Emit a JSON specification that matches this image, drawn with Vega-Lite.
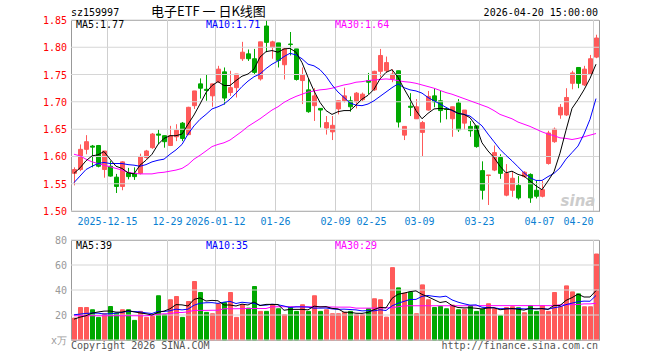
{
  "$schema": "https://vega.github.io/schema/vega-lite/v6.json",
  "background": "white",
  "padding": {"left": 42, "top": 5, "right": 10, "bottom": 4},
  "config": {
    "view": {"stroke": "#999", "strokeWidth": 1},
    "text": {"font": "DejaVu Sans Mono", "fontSize": 10}
  },
  "datasets": {
    "yt": [{"p":1.5},{"p":1.55},{"p":1.6},{"p":1.65},{"p":1.7},{"p":1.75},{"p":1.8},{"p":1.85}],
    "vt": [{"p":0,"t":"x万"},{"p":20,"t":"20"},{"p":40,"t":"40"},{"p":60,"t":"60"},{"p":80,"t":"80"}],
    "xt": [
      {"d":"2025-12-15","t":"2025-12-15"},{"d":"2025-12-29","t":"12-29"},{"d":"2026-01-12","t":"2026-01-12"},
      {"d":"2026-01-26","t":"01-26"},{"d":"2026-02-09","t":"02-09"},{"d":"2026-02-25","t":"02-25"},
      {"d":"2026-03-09","t":"03-09"},{"d":"2026-03-23","t":"03-23"},{"d":"2026-04-07","t":"04-07"}
    ],
    "xl": [{"d":"2026-04-20","t":"04-20"}],
    "k": [
      {"d":"2025-12-05","o":1.569,"h":1.580,"l":1.547,"c":1.576,"v":17.5,"m5":1.569,"m10":1.552,"m30":1.604,"vm5":16.7,"vm10":20.2,"vm30":19.4},
      {"d":"2025-12-08","o":1.576,"h":1.622,"l":1.573,"c":1.613,"v":26,"m5":1.579,"m10":1.564,"m30":1.601,"vm5":18.3,"vm10":20.7,"vm30":19.4},
      {"d":"2025-12-09","o":1.613,"h":1.639,"l":1.604,"c":1.627,"v":26,"m5":1.592,"m10":1.576,"m30":1.595,"vm5":19.4,"vm10":21.3,"vm30":19.4},
      {"d":"2025-12-10","o":1.619,"h":1.621,"l":1.580,"c":1.617,"v":24.2,"m5":1.601,"m10":1.582,"m30":1.590,"vm5":21.5,"vm10":21.5,"vm30":19.4},
      {"d":"2025-12-11","o":1.620,"h":1.621,"l":1.580,"c":1.582,"v":18.1,"m5":1.603,"m10":1.587,"m30":1.587,"vm5":22.4,"vm10":21.5,"vm30":19.4},
      {"d":"2025-12-12","o":1.576,"h":1.610,"l":1.561,"c":1.610,"v":21,"m5":1.609,"m10":1.589,"m30":1.584,"vm5":23.1,"vm10":20.8,"vm30":19.4},
      {"d":"2025-12-15","o":1.582,"h":1.592,"l":1.563,"c":1.564,"v":26.8,"m5":1.595,"m10":1.587,"m30":1.581,"vm5":23.2,"vm10":21.0,"vm30":19.4},
      {"d":"2025-12-16","o":1.562,"h":1.568,"l":1.533,"c":1.545,"v":21.5,"m5":1.582,"m10":1.587,"m30":1.578,"vm5":22.3,"vm10":21.5,"vm30":19.4},
      {"d":"2025-12-17","o":1.545,"h":1.591,"l":1.538,"c":1.590,"v":24.2,"m5":1.578,"m10":1.587,"m30":1.575,"vm5":22.3,"vm10":22.1,"vm30":19.4},
      {"d":"2025-12-18","o":1.570,"h":1.579,"l":1.558,"c":1.563,"v":24.2,"m5":1.570,"m10":1.585,"m30":1.571,"vm5":23.5,"vm10":23.0,"vm30":19.4},
      {"d":"2025-12-19","o":1.569,"h":1.580,"l":1.557,"c":1.563,"v":15.7,"m5":1.568,"m10":1.584,"m30":1.569,"vm5":22.5,"vm10":22.8,"vm30":19.4},
      {"d":"2025-12-22","o":1.569,"h":1.605,"l":1.567,"c":1.600,"v":22.9,"m5":1.584,"m10":1.582,"m30":1.568,"vm5":21.7,"vm10":22.5,"vm30":19.4},
      {"d":"2025-12-23","o":1.598,"h":1.612,"l":1.596,"c":1.610,"v":18.1,"m5":1.593,"m10":1.585,"m30":1.568,"vm5":21.0,"vm10":21.7,"vm30":19.4},
      {"d":"2025-12-24","o":1.616,"h":1.643,"l":1.614,"c":1.641,"v":18.9,"m5":1.604,"m10":1.590,"m30":1.568,"vm5":20.0,"vm10":21.2,"vm30":19.8},
      {"d":"2025-12-25","o":1.641,"h":1.649,"l":1.622,"c":1.639,"v":35.4,"m5":1.622,"m10":1.593,"m30":1.570,"vm5":22.2,"vm10":22.9,"vm30":20.6},
      {"d":"2025-12-26","o":1.638,"h":1.638,"l":1.616,"c":1.627,"v":20.2,"m5":1.633,"m10":1.595,"m30":1.571,"vm5":23.1,"vm10":22.8,"vm30":21.0},
      {"d":"2025-12-29","o":1.620,"h":1.656,"l":1.619,"c":1.638,"v":32.2,"m5":1.638,"m10":1.604,"m30":1.573,"vm5":25.0,"vm10":23.4,"vm30":21.0},
      {"d":"2025-12-30","o":1.636,"h":1.659,"l":1.628,"c":1.648,"v":34.8,"m5":1.638,"m10":1.612,"m30":1.575,"vm5":28.3,"vm10":24.7,"vm30":22.0},
      {"d":"2025-12-31","o":1.661,"h":1.663,"l":1.628,"c":1.633,"v":18.1,"m5":1.641,"m10":1.622,"m30":1.578,"vm5":28.1,"vm10":24.1,"vm30":22.0},
      {"d":"2026-01-05","o":1.640,"h":1.691,"l":1.639,"c":1.690,"v":30.8,"m5":1.659,"m10":1.641,"m30":1.585,"vm5":27.2,"vm10":24.7,"vm30":22.5},
      {"d":"2026-01-06","o":1.693,"h":1.720,"l":1.687,"c":1.720,"v":46.8,"m5":1.676,"m10":1.656,"m30":1.595,"vm5":32.5,"vm10":27.8,"vm30":23.7},
      {"d":"2026-01-07","o":1.733,"h":1.743,"l":1.706,"c":1.725,"v":38,"m5":1.696,"m10":1.668,"m30":1.602,"vm5":33.7,"vm10":29.4,"vm30":23.7},
      {"d":"2026-01-08","o":1.723,"h":1.751,"l":1.702,"c":1.721,"v":22.1,"m5":1.717,"m10":1.677,"m30":1.610,"vm5":31.2,"vm10":29.8,"vm30":23.7},
      {"d":"2026-01-09","o":1.711,"h":1.733,"l":1.691,"c":1.733,"v":21,"m5":1.730,"m10":1.687,"m30":1.618,"vm5":31.7,"vm10":29.9,"vm30":23.8},
      {"d":"2026-01-12","o":1.737,"h":1.766,"l":1.735,"c":1.760,"v":29,"m5":1.737,"m10":1.691,"m30":1.622,"vm5":31.4,"vm10":29.3,"vm30":23.8},
      {"d":"2026-01-13","o":1.755,"h":1.763,"l":1.695,"c":1.707,"v":30,"m5":1.730,"m10":1.696,"m30":1.625,"vm5":28.0,"vm10":30.3,"vm30":25.0},
      {"d":"2026-01-14","o":1.717,"h":1.757,"l":1.711,"c":1.726,"v":38,"m5":1.730,"m10":1.705,"m30":1.630,"vm5":28.0,"vm10":30.9,"vm30":25.0},
      {"d":"2026-01-15","o":1.726,"h":1.751,"l":1.708,"c":1.751,"v":18.1,"m5":1.739,"m10":1.716,"m30":1.638,"vm5":27.2,"vm10":29.2,"vm30":25.0},
      {"d":"2026-01-16","o":1.779,"h":1.810,"l":1.775,"c":1.791,"v":28.2,"m5":1.747,"m10":1.728,"m30":1.646,"vm5":28.7,"vm10":30.2,"vm30":25.1},
      {"d":"2026-01-19","o":1.788,"h":1.796,"l":1.775,"c":1.779,"v":25.5,"m5":1.751,"m10":1.738,"m30":1.655,"vm5":28.0,"vm10":29.7,"vm30":25.1},
      {"d":"2026-01-20","o":1.779,"h":1.797,"l":1.751,"c":1.754,"v":42.8,"m5":1.760,"m10":1.746,"m30":1.662,"vm5":30.5,"vm10":29.3,"vm30":25.2},
      {"d":"2026-01-21","o":1.742,"h":1.810,"l":1.739,"c":1.810,"v":22.9,"m5":1.782,"m10":1.751,"m30":1.669,"vm5":27.5,"vm10":27.8,"vm30":25.2},
      {"d":"2026-01-22","o":1.839,"h":1.849,"l":1.791,"c":1.809,"v":22.9,"m5":1.792,"m10":1.761,"m30":1.677,"vm5":28.5,"vm10":27.9,"vm30":25.2},
      {"d":"2026-01-23","o":1.800,"h":1.812,"l":1.779,"c":1.810,"v":28.2,"m5":1.794,"m10":1.769,"m30":1.685,"vm5":28.5,"vm10":28.6,"vm30":26.6},
      {"d":"2026-01-26","o":1.808,"h":1.808,"l":1.763,"c":1.776,"v":25,"m5":1.791,"m10":1.775,"m30":1.691,"vm5":28.4,"vm10":28.2,"vm30":26.6},
      {"d":"2026-01-27","o":1.768,"h":1.798,"l":1.741,"c":1.797,"v":20.2,"m5":1.797,"m10":1.783,"m30":1.699,"vm5":23.8,"vm10":27.2,"vm30":26.6},
      {"d":"2026-01-28","o":1.806,"h":1.828,"l":1.785,"c":1.805,"v":26.3,"m5":1.798,"m10":1.789,"m30":1.705,"vm5":24.5,"vm10":26.0,"vm30":26.6},
      {"d":"2026-01-29","o":1.797,"h":1.797,"l":1.739,"c":1.741,"v":22.9,"m5":1.791,"m10":1.786,"m30":1.710,"vm5":24.5,"vm10":26.5,"vm30":26.6},
      {"d":"2026-01-30","o":1.739,"h":1.763,"l":1.696,"c":1.749,"v":28.2,"m5":1.772,"m10":1.779,"m30":1.714,"vm5":24.5,"vm10":26.5,"vm30":26.6},
      {"d":"2026-02-02","o":1.722,"h":1.743,"l":1.680,"c":1.682,"v":22.9,"m5":1.745,"m10":1.769,"m30":1.718,"vm5":24.1,"vm10":26.3,"vm30":26.6},
      {"d":"2026-02-03","o":1.693,"h":1.725,"l":1.665,"c":1.711,"v":35.4,"m5":1.720,"m10":1.766,"m30":1.720,"vm5":27.1,"vm10":25.5,"vm30":26.6},
      {"d":"2026-02-04","o":1.688,"h":1.688,"l":1.653,"c":1.685,"v":22.9,"m5":1.699,"m10":1.759,"m30":1.722,"vm5":26.5,"vm10":25.5,"vm30":26.6},
      {"d":"2026-02-05","o":1.652,"h":1.674,"l":1.640,"c":1.662,"v":24.2,"m5":1.684,"m10":1.747,"m30":1.723,"vm5":26.7,"vm10":25.6,"vm30":26.5},
      {"d":"2026-02-06","o":1.645,"h":1.674,"l":1.630,"c":1.657,"v":21,"m5":1.677,"m10":1.731,"m30":1.725,"vm5":25.3,"vm10":24.9,"vm30":26.4},
      {"d":"2026-02-09","o":1.687,"h":1.702,"l":1.677,"c":1.702,"v":21,"m5":1.682,"m10":1.718,"m30":1.728,"vm5":24.9,"vm10":24.5,"vm30":26.3},
      {"d":"2026-02-10","o":1.702,"h":1.726,"l":1.699,"c":1.711,"v":22.1,"m5":1.684,"m10":1.708,"m30":1.731,"vm5":22.2,"vm10":24.7,"vm30":26.3},
      {"d":"2026-02-11","o":1.702,"h":1.710,"l":1.682,"c":1.691,"v":22.9,"m5":1.684,"m10":1.698,"m30":1.733,"vm5":22.2,"vm10":24.4,"vm30":26.3},
      {"d":"2026-02-12","o":1.700,"h":1.718,"l":1.688,"c":1.716,"v":20.2,"m5":1.694,"m10":1.694,"m30":1.736,"vm5":21.4,"vm10":24.1,"vm30":25.5},
      {"d":"2026-02-13","o":1.704,"h":1.717,"l":1.701,"c":1.714,"v":20.2,"m5":1.705,"m10":1.693,"m30":1.737,"vm5":21.3,"vm10":23.3,"vm30":25.5},
      {"d":"2026-02-24","o":1.739,"h":1.753,"l":1.714,"c":1.736,"v":25,"m5":1.712,"m10":1.696,"m30":1.739,"vm5":22.1,"vm10":23.5,"vm30":25.5},
      {"d":"2026-02-25","o":1.722,"h":1.757,"l":1.720,"c":1.756,"v":33,"m5":1.723,"m10":1.702,"m30":1.740,"vm5":24.3,"vm10":23.3,"vm30":25.5},
      {"d":"2026-02-26","o":1.756,"h":1.797,"l":1.745,"c":1.785,"v":32.2,"m5":1.742,"m10":1.710,"m30":1.741,"vm5":26.1,"vm10":24.2,"vm30":25.6},
      {"d":"2026-02-27","o":1.757,"h":1.783,"l":1.754,"c":1.772,"v":18.3,"m5":1.754,"m10":1.718,"m30":1.742,"vm5":25.7,"vm10":23.6,"vm30":25.8},
      {"d":"2026-03-02","o":1.742,"h":1.760,"l":1.736,"c":1.751,"v":57.9,"m5":1.759,"m10":1.726,"m30":1.741,"vm5":33.3,"vm10":27.3,"vm30":25.8},
      {"d":"2026-03-03","o":1.757,"h":1.757,"l":1.653,"c":1.663,"v":41.7,"m5":1.745,"m10":1.733,"m30":1.739,"vm5":36.6,"vm10":29.4,"vm30":26.6},
      {"d":"2026-03-04","o":1.639,"h":1.655,"l":1.630,"c":1.655,"v":37.5,"m5":1.724,"m10":1.726,"m30":1.737,"vm5":37.5,"vm10":30.9,"vm30":27.3},
      {"d":"2026-03-05","o":1.692,"h":1.716,"l":1.674,"c":1.690,"v":38.3,"m5":1.705,"m10":1.722,"m30":1.736,"vm5":38.7,"vm10":32.4,"vm30":27.4},
      {"d":"2026-03-06","o":1.669,"h":1.705,"l":1.669,"c":1.691,"v":21,"m5":1.684,"m10":1.720,"m30":1.734,"vm5":39.3,"vm10":32.5,"vm30":27.4},
      {"d":"2026-03-09","o":1.644,"h":1.665,"l":1.600,"c":1.662,"v":44.1,"m5":1.669,"m10":1.716,"m30":1.731,"vm5":36.5,"vm10":34.9,"vm30":27.4},
      {"d":"2026-03-10","o":1.685,"h":1.720,"l":1.684,"c":1.710,"v":32.2,"m5":1.679,"m10":1.708,"m30":1.728,"vm5":34.6,"vm10":35.6,"vm30":27.4},
      {"d":"2026-03-11","o":1.711,"h":1.725,"l":1.690,"c":1.700,"v":26,"m5":1.687,"m10":1.702,"m30":1.725,"vm5":32.3,"vm10":34.9,"vm30":27.4},
      {"d":"2026-03-12","o":1.702,"h":1.720,"l":1.662,"c":1.684,"v":26.8,"m5":1.688,"m10":1.696,"m30":1.721,"vm5":30.0,"vm10":34.4,"vm30":27.4},
      {"d":"2026-03-13","o":1.687,"h":1.690,"l":1.668,"c":1.686,"v":25,"m5":1.687,"m10":1.690,"m30":1.717,"vm5":30.8,"vm10":35.1,"vm30":27.4},
      {"d":"2026-03-16","o":1.669,"h":1.691,"l":1.636,"c":1.691,"v":27.9,"m5":1.685,"m10":1.684,"m30":1.714,"vm5":27.6,"vm10":32.1,"vm30":27.4},
      {"d":"2026-03-17","o":1.698,"h":1.705,"l":1.645,"c":1.649,"v":24.2,"m5":1.679,"m10":1.679,"m30":1.710,"vm5":26.0,"vm10":30.3,"vm30":27.4},
      {"d":"2026-03-18","o":1.661,"h":1.685,"l":1.649,"c":1.685,"v":24.7,"m5":1.677,"m10":1.677,"m30":1.706,"vm5":25.7,"vm10":29.0,"vm30":27.4},
      {"d":"2026-03-19","o":1.655,"h":1.665,"l":1.636,"c":1.647,"v":27.4,"m5":1.671,"m10":1.674,"m30":1.702,"vm5":25.8,"vm10":27.9,"vm30":27.4},
      {"d":"2026-03-20","o":1.656,"h":1.656,"l":1.616,"c":1.618,"v":22.9,"m5":1.656,"m10":1.665,"m30":1.698,"vm5":25.4,"vm10":28.1,"vm30":27.4},
      {"d":"2026-03-23","o":1.574,"h":1.591,"l":1.521,"c":1.538,"v":24.7,"m5":1.625,"m10":1.656,"m30":1.694,"vm5":24.8,"vm10":26.2,"vm30":27.5},
      {"d":"2026-03-24","o":1.565,"h":1.566,"l":1.511,"c":1.566,"v":29,"m5":1.610,"m10":1.641,"m30":1.690,"vm5":25.7,"vm10":25.9,"vm30":27.5},
      {"d":"2026-03-25","o":1.575,"h":1.620,"l":1.573,"c":1.607,"v":25,"m5":1.598,"m10":1.627,"m30":1.684,"vm5":25.8,"vm10":25.8,"vm30":27.5},
      {"d":"2026-03-26","o":1.598,"h":1.604,"l":1.559,"c":1.569,"v":19.4,"m5":1.582,"m10":1.613,"m30":1.677,"vm5":24.2,"vm10":25.0,"vm30":27.5},
      {"d":"2026-03-27","o":1.529,"h":1.586,"l":1.527,"c":1.569,"v":26,"m5":1.570,"m10":1.602,"m30":1.673,"vm5":24.8,"vm10":25.1,"vm30":27.5},
      {"d":"2026-03-30","o":1.538,"h":1.573,"l":1.526,"c":1.560,"v":26.6,"m5":1.573,"m10":1.592,"m30":1.669,"vm5":25.2,"vm10":25.0,"vm30":27.5},
      {"d":"2026-03-31","o":1.547,"h":1.564,"l":1.521,"c":1.524,"v":25.8,"m5":1.567,"m10":1.581,"m30":1.663,"vm5":24.6,"vm10":25.2,"vm30":27.5},
      {"d":"2026-04-01","o":1.563,"h":1.573,"l":1.561,"c":1.571,"v":21.8,"m5":1.564,"m10":1.570,"m30":1.659,"vm5":23.9,"vm10":24.9,"vm30":27.5},
      {"d":"2026-04-02","o":1.567,"h":1.569,"l":1.515,"c":1.524,"v":27.4,"m5":1.555,"m10":1.561,"m30":1.655,"vm5":25.5,"vm10":24.9,"vm30":27.5},
      {"d":"2026-04-03","o":1.538,"h":1.555,"l":1.523,"c":1.527,"v":22.9,"m5":1.546,"m10":1.556,"m30":1.650,"vm5":24.9,"vm10":24.9,"vm30":27.5},
      {"d":"2026-04-07","o":1.527,"h":1.555,"l":1.525,"c":1.539,"v":27.4,"m5":1.539,"m10":1.556,"m30":1.645,"vm5":25.1,"vm10":25.2,"vm30":27.5},
      {"d":"2026-04-08","o":1.587,"h":1.647,"l":1.585,"c":1.643,"v":22.9,"m5":1.555,"m10":1.563,"m30":1.641,"vm5":24.5,"vm10":24.6,"vm30":27.5},
      {"d":"2026-04-09","o":1.627,"h":1.653,"l":1.625,"c":1.650,"v":38,"m5":1.572,"m10":1.569,"m30":1.638,"vm5":27.7,"vm10":25.8,"vm30":27.5},
      {"d":"2026-04-10","o":1.676,"h":1.696,"l":1.669,"c":1.690,"v":26.8,"m5":1.606,"m10":1.579,"m30":1.634,"vm5":27.6,"vm10":26.6,"vm30":28.2},
      {"d":"2026-04-13","o":1.676,"h":1.725,"l":1.674,"c":1.708,"v":43.3,"m5":1.648,"m10":1.595,"m30":1.633,"vm5":31.7,"vm10":28.3,"vm30":28.2},
      {"d":"2026-04-14","o":1.734,"h":1.757,"l":1.723,"c":1.753,"v":38.5,"m5":1.688,"m10":1.607,"m30":1.631,"vm5":33.9,"vm10":29.5,"vm30":28.3},
      {"d":"2026-04-15","o":1.763,"h":1.763,"l":1.725,"c":1.734,"v":36.9,"m5":1.704,"m10":1.619,"m30":1.633,"vm5":36.7,"vm10":30.6,"vm30":28.4},
      {"d":"2026-04-16","o":1.731,"h":1.766,"l":1.729,"c":1.760,"v":26.6,"m5":1.722,"m10":1.641,"m30":1.636,"vm5":34.4,"vm10":31.1,"vm30":28.9},
      {"d":"2026-04-17","o":1.751,"h":1.786,"l":1.749,"c":1.779,"v":26.6,"m5":1.743,"m10":1.668,"m30":1.639,"vm5":34.4,"vm10":31.0,"vm30":28.9},
      {"d":"2026-04-20","o":1.782,"h":1.823,"l":1.780,"c":1.817,"v":68.8,"m5":1.769,"m10":1.706,"m30":1.642,"vm5":39.5,"vm10":35.6,"vm30":29.4}
    ]
  },
  "spacing": 29,
  "bounds": "flush",
  "vconcat": [
    {
      "width": 528,
      "height": 191,
      "layer": [
        {
          "data": {"name": "k"},
          "mark": {"type": "rule", "strokeWidth": 1, "xOffset": 0.5},
          "encoding": {
            "x": {"field": "d", "type": "ordinal", "axis": null, "scale": {"type": "band", "paddingInner": 0, "paddingOuter": 0}},
            "y": {"field": "l", "type": "quantitative", "axis": null, "scale": {"domain": [1.5, 1.85], "nice": false, "zero": false}},
            "y2": {"field": "h"},
            "color": {"condition": {"test": "datum.c >= datum.o", "value": "#ff5a5a"}, "value": "#00a800"}
          }
        },
        {
          "data": {"name": "k"},
          "mark": {"type": "bar", "width": 4, "strokeWidth": 1, "xOffset": 0.5},
          "encoding": {
            "x": {"field": "d", "type": "ordinal", "axis": null},
            "y": {"field": "o", "type": "quantitative", "axis": null},
            "y2": {"field": "c"},
            "fill": {"condition": {"test": "datum.c >= datum.o", "value": "#ff5a5a"}, "value": "#00a800"},
            "stroke": {"condition": {"test": "datum.c >= datum.o", "value": "#ff5a5a"}, "value": "#00a800"}
          }
        },
        {
          "data": {"name": "xt"},
          "mark": {"type": "bar", "width": 1, "color": "#cfcfcf", "xOffset": -2.5},
          "encoding": {
            "x": {"field": "d", "type": "ordinal", "axis": null},
            "y": {"datum": 1.5, "type": "quantitative", "axis": null},
            "y2": {"datum": 1.85}
          }
        },
        {
          "data": {"name": "xl"},
          "mark": {"type": "bar", "width": 1, "color": "#cfcfcf", "xOffset": -2.5},
          "encoding": {
            "x": {"field": "d", "type": "ordinal", "axis": null},
            "y": {"datum": 1.5, "type": "quantitative", "axis": null},
            "y2": {"datum": 1.85}
          }
        },
        {
          "data": {"name": "yt"},
          "mark": {"type": "rect", "color": "#d6d6d6", "yOffset": -0.5, "y2Offset": 0.5, "xOffset": -3, "x2Offset": 3},
          "encoding": {
            "x": {"datum": "2025-12-05", "type": "ordinal", "axis": null},
            "x2": {"datum": "2026-04-20"},
            "y": {"field": "p", "type": "quantitative", "axis": null},
            "y2": {"field": "p"}
          }
        },
        {
          "data": {"name": "k"},
          "mark": {"type": "line", "color": "#ff00ff", "strokeWidth": 1},
          "encoding": {
            "x": {"field": "d", "type": "ordinal", "axis": null},
            "y": {"field": "m30", "type": "quantitative", "axis": null}
          }
        },
        {
          "data": {"name": "k"},
          "mark": {"type": "line", "color": "#0000ff", "strokeWidth": 1},
          "encoding": {
            "x": {"field": "d", "type": "ordinal", "axis": null},
            "y": {"field": "m10", "type": "quantitative", "axis": null}
          }
        },
        {
          "data": {"name": "k"},
          "mark": {"type": "line", "color": "#000000", "strokeWidth": 1},
          "encoding": {
            "x": {"field": "d", "type": "ordinal", "axis": null},
            "y": {"field": "m5", "type": "quantitative", "axis": null}
          }
        },
        {
          "data": {"name": "yt"},
          "mark": {"type": "text", "color": "#ff0000", "align": "right", "baseline": "middle", "dx": -7, "dy": 1},
          "encoding": {
            "x": {"datum": "2025-12-05", "type": "ordinal", "axis": null},
            "y": {"field": "p", "type": "quantitative", "axis": null},
            "text": {"field": "p", "type": "quantitative", "format": ".2f"}
          }
        },
        {
          "data": {"name": "xt"},
          "mark": {"type": "text", "color": "#0a7fd2", "align": "center", "baseline": "top", "dx": -2.5},
          "encoding": {
            "x": {"field": "d", "type": "ordinal", "axis": null},
            "y": {"datum": 1.4899, "type": "quantitative", "axis": null},
            "text": {"field": "t"}
          }
        },
        {
          "data": {"name": "xl"},
          "mark": {"type": "text", "color": "#0a7fd2", "align": "right", "baseline": "top", "dx": -2.5},
          "encoding": {
            "x": {"field": "d", "type": "ordinal", "axis": null},
            "y": {"datum": 1.4899, "type": "quantitative", "axis": null},
            "text": {"field": "t"}
          }
        },
        {
          "data": {"values": [{}]},
          "mark": {"type": "text", "text": "sina", "font": "DejaVu Sans", "fontSize": 15, "fontWeight": "bold", "fontStyle": "italic", "color": "#cccccc", "align": "center", "baseline": "middle"},
          "encoding": {
            "x": {"datum": "2026-04-15", "type": "ordinal", "axis": null},
            "y": {"datum": 1.518, "type": "quantitative", "axis": null}
          }
        },
        {
          "data": {"values": [{}]},
          "mark": {"type": "text", "text": "MA5:1.77", "color": "#000000", "align": "left", "baseline": "middle", "dx": 2},
          "encoding": {
            "x": {"datum": "2025-12-05", "type": "ordinal", "axis": null},
            "y": {"datum": 1.840, "type": "quantitative", "axis": null}
          }
        },
        {
          "data": {"values": [{}]},
          "mark": {"type": "text", "text": "MA10:1.71", "color": "#0000ff", "align": "left", "baseline": "middle", "dx": 0},
          "encoding": {
            "x": {"datum": "2026-01-08", "type": "ordinal", "axis": null},
            "y": {"datum": 1.840, "type": "quantitative", "axis": null}
          }
        },
        {
          "data": {"values": [{}]},
          "mark": {"type": "text", "text": "MA30:1.64", "color": "#ff00ff", "align": "left", "baseline": "middle", "dx": -3},
          "encoding": {
            "x": {"datum": "2026-02-09", "type": "ordinal", "axis": null},
            "y": {"datum": 1.840, "type": "quantitative", "axis": null}
          }
        },
        {
          "data": {"values": [{}]},
          "mark": {"type": "text", "text": "sz159997", "color": "#000000", "align": "left", "baseline": "middle", "dx": -3},
          "encoding": {
            "x": {"datum": "2025-12-05", "type": "ordinal", "axis": null},
            "y": {"datum": 1.8628, "type": "quantitative", "axis": null}
          }
        },
        {
          "data": {"values": [{}]},
          "mark": {"type": "text", "text": "电子ETF 一 日K线图", "font": "Noto Sans CJK SC", "fontSize": 13, "color": "#000000", "align": "left", "baseline": "middle", "dx": -1},
          "encoding": {
            "x": {"datum": "2025-12-24", "type": "ordinal", "axis": null},
            "y": {"datum": 1.8655, "type": "quantitative", "axis": null}
          }
        },
        {
          "data": {"values": [{}]},
          "mark": {"type": "text", "text": "2026-04-20 15:00:00", "color": "#000000", "align": "right", "baseline": "middle", "dx": 2},
          "encoding": {
            "x": {"datum": "2026-04-20", "type": "ordinal", "axis": null},
            "y": {"datum": 1.8628, "type": "quantitative", "axis": null}
          }
        }
      ]
    },
    {
      "width": 528,
      "height": 100,
      "layer": [
        {
          "data": {"name": "k"},
          "mark": {"type": "bar", "width": 4, "strokeWidth": 1, "xOffset": 0.5},
          "encoding": {
            "x": {"field": "d", "type": "ordinal", "axis": null, "scale": {"type": "band", "paddingInner": 0, "paddingOuter": 0}},
            "y": {"field": "v", "type": "quantitative", "axis": null, "scale": {"domain": [0, 80], "nice": false}},
            "fill": {"condition": {"test": "datum.c >= datum.o", "value": "#ff5a5a"}, "value": "#00a800"},
            "stroke": {"condition": {"test": "datum.c >= datum.o", "value": "#ff5a5a"}, "value": "#00a800"}
          }
        },
        {
          "data": {"name": "xt"},
          "mark": {"type": "bar", "width": 1, "color": "#cfcfcf", "xOffset": -2.5},
          "encoding": {
            "x": {"field": "d", "type": "ordinal", "axis": null},
            "y": {"datum": 0, "type": "quantitative", "axis": null},
            "y2": {"datum": 80}
          }
        },
        {
          "data": {"name": "xl"},
          "mark": {"type": "bar", "width": 1, "color": "#cfcfcf", "xOffset": -2.5},
          "encoding": {
            "x": {"field": "d", "type": "ordinal", "axis": null},
            "y": {"datum": 0, "type": "quantitative", "axis": null},
            "y2": {"datum": 80}
          }
        },
        {
          "data": {"name": "vt"},
          "mark": {"type": "rect", "color": "#d6d6d6", "yOffset": -0.5, "y2Offset": 0.5, "xOffset": -3, "x2Offset": 3},
          "encoding": {
            "x": {"datum": "2025-12-05", "type": "ordinal", "axis": null},
            "x2": {"datum": "2026-04-20"},
            "y": {"field": "p", "type": "quantitative", "axis": null},
            "y2": {"field": "p"}
          }
        },
        {
          "data": {"name": "k"},
          "mark": {"type": "line", "color": "#ff00ff", "strokeWidth": 1},
          "encoding": {
            "x": {"field": "d", "type": "ordinal", "axis": null},
            "y": {"field": "vm30", "type": "quantitative", "axis": null}
          }
        },
        {
          "data": {"name": "k"},
          "mark": {"type": "line", "color": "#0000ff", "strokeWidth": 1},
          "encoding": {
            "x": {"field": "d", "type": "ordinal", "axis": null},
            "y": {"field": "vm10", "type": "quantitative", "axis": null}
          }
        },
        {
          "data": {"name": "k"},
          "mark": {"type": "line", "color": "#000000", "strokeWidth": 1},
          "encoding": {
            "x": {"field": "d", "type": "ordinal", "axis": null},
            "y": {"field": "vm5", "type": "quantitative", "axis": null}
          }
        },
        {
          "data": {"name": "vt"},
          "mark": {"type": "text", "color": "#999999", "align": "right", "baseline": "middle", "dx": -7, "dy": 1},
          "encoding": {
            "x": {"datum": "2025-12-05", "type": "ordinal", "axis": null},
            "y": {"field": "p", "type": "quantitative", "axis": null},
            "text": {"field": "t"}
          }
        },
        {
          "data": {"values": [{}]},
          "mark": {"type": "text", "text": "MA5:39", "color": "#000000", "align": "left", "baseline": "middle", "dx": 2},
          "encoding": {
            "x": {"datum": "2025-12-05", "type": "ordinal", "axis": null},
            "y": {"datum": 75.2, "type": "quantitative", "axis": null}
          }
        },
        {
          "data": {"values": [{}]},
          "mark": {"type": "text", "text": "MA10:35", "color": "#0000ff", "align": "left", "baseline": "middle", "dx": 0},
          "encoding": {
            "x": {"datum": "2026-01-08", "type": "ordinal", "axis": null},
            "y": {"datum": 75.2, "type": "quantitative", "axis": null}
          }
        },
        {
          "data": {"values": [{}]},
          "mark": {"type": "text", "text": "MA30:29", "color": "#ff00ff", "align": "left", "baseline": "middle", "dx": -3},
          "encoding": {
            "x": {"datum": "2026-02-09", "type": "ordinal", "axis": null},
            "y": {"datum": 75.2, "type": "quantitative", "axis": null}
          }
        },
        {
          "data": {"values": [{}]},
          "mark": {"type": "text", "text": "Copyright 2026 SINA.COM", "color": "#555555", "align": "left", "baseline": "middle", "dx": -3},
          "encoding": {
            "x": {"datum": "2025-12-05", "type": "ordinal", "axis": null},
            "y": {"datum": -4.8, "type": "quantitative", "axis": null}
          }
        },
        {
          "data": {"values": [{}]},
          "mark": {"type": "text", "text": "http://finance.sina.com.cn", "color": "#555555", "align": "right", "baseline": "middle", "dx": 2},
          "encoding": {
            "x": {"datum": "2026-04-20", "type": "ordinal", "axis": null},
            "y": {"datum": -4.8, "type": "quantitative", "axis": null}
          }
        }
      ]
    }
  ]
}
